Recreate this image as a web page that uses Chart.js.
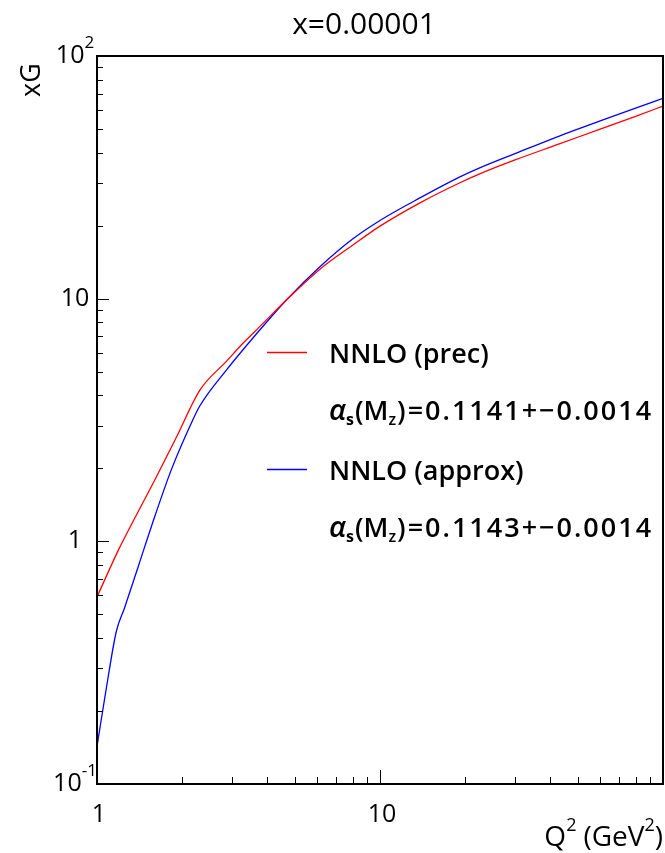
<!DOCTYPE html>
<html><head><meta charset="utf-8">
<script src="https://cdn.jsdelivr.net/npm/chart.js@4.4.0/dist/chart.umd.min.js"></script>
<style>html,body{margin:0;padding:0;background:#fff;}canvas{display:block;}</style>
</head><body>
<canvas id="c" width="665" height="853"></canvas>
<script>
// ---- data ----
const title = 'x=0.00001';
const yAxisTitle = 'xG';
const seriesLabels = ['NNLO (prec)', 'NNLO (approx)'];
const alphaValues = ['0.1141+\u22120.0014', '0.1143+\u22120.0014'];
const seriesColors = ['#ff0000', '#0000ff'];

const precQ2 = [1, 1.19, 1.4, 1.6, 1.9, 2.31, 2.87, 3.28, 3.76, 4.67, 6.12, 8, 10, 14, 19, 22.4, 30, 43, 60, 80, 100];
const precXG = [0.59, 0.92, 1.33, 1.79, 2.66, 4.2, 5.53, 6.55, 7.67, 9.88, 13.2, 16.6, 19.9, 25.0, 29.9, 32.6, 37.3, 43.4, 50.0, 56.4, 62.2];

const approxQ2 = [1, 1.08, 1.17, 1.25, 1.4, 1.56, 1.83, 2.19, 2.31, 2.87, 3.76, 4.67, 6.12, 8, 10, 14, 19, 22.4, 30, 43, 60, 80, 100];
const approxXG = [0.143, 0.25, 0.425, 0.53, 0.79, 1.16, 1.97, 3.2, 3.62, 5.09, 7.43, 9.88, 13.5, 17.6, 21.0, 26.2, 31.6, 34.5, 39.6, 46.8, 54.0, 61.0, 66.9];

const xMajorTicks = [1, 10, 100];
const xTickLabels = [['1', ''], ['10', ''], null];
const yMajorTicks = [0.1, 1, 10, 100];
const yTickLabels = [['10', '-1'], ['1', ''], ['10', ''], ['10', '2']];

// ---- helpers ----
const FONT = '"Open Sans", "DejaVu Sans", sans-serif';
function font(size, opts) {
  opts = opts || {};
  return (opts.italic ? 'italic ' : '') + (opts.bold ? 'bold ' : (opts.weight ? opts.weight + ' ' : '')) + size + 'px ' + FONT;
}
function applyFont(ctx, p) {
  ctx.font = font(p.size, p);
  if ('letterSpacing' in ctx) ctx.letterSpacing = (p.ls || 0) + 'px';
}
function richWidth(ctx, parts) {
  let w = 0;
  for (const p of parts) { applyFont(ctx, p); w += ctx.measureText(p.t).width + (p.gap || 0); }
  return w;
}
function drawRich(ctx, x, y, parts, align) {
  let w = richWidth(ctx, parts);
  let cx = align === 'center' ? x - w / 2 : align === 'right' ? x - w : x;
  ctx.textAlign = 'left';
  for (const p of parts) {
    applyFont(ctx, p);
    ctx.fillText(p.t, cx, y + (p.dy || 0));
    cx += ctx.measureText(p.t).width + (p.gap || 0);
  }
  if ('letterSpacing' in ctx) ctx.letterSpacing = '0px';
}

const decorPlugin = {
  id: 'decor',
  afterDraw(chart) {
    const { ctx, chartArea: a, scales: { x, y } } = chart;
    ctx.save();
    ctx.fillStyle = '#000';
    ctx.strokeStyle = '#000';
    // ticks (drawn inward)
    ctx.lineWidth = 1;
    ctx.beginPath();
    for (let i = 0; i < xMajorTicks.length; i++) {
      const px = Math.round(x.getPixelForValue(xMajorTicks[i])) + 0.5;
      ctx.moveTo(px, a.bottom); ctx.lineTo(px, a.bottom - 14);
      if (i < xMajorTicks.length - 1) {
        for (let k = 2; k <= 9; k++) {
          const mx = Math.round(x.getPixelForValue(xMajorTicks[i] * k)) + 0.5;
          ctx.moveTo(mx, a.bottom); ctx.lineTo(mx, a.bottom - 7);
        }
      }
    }
    for (let i = 0; i < yMajorTicks.length; i++) {
      const py = Math.round(y.getPixelForValue(yMajorTicks[i])) + 0.5;
      ctx.moveTo(a.left, py); ctx.lineTo(a.left + 12, py);
      if (i < yMajorTicks.length - 1) {
        for (let k = 2; k <= 9; k++) {
          const my = Math.round(y.getPixelForValue(yMajorTicks[i] * k)) + 0.5;
          ctx.moveTo(a.left, my); ctx.lineTo(a.left + 6, my);
        }
      }
    }
    ctx.stroke();
    // frame
    ctx.lineWidth = 2;
    ctx.strokeRect(a.left, a.top, a.right - a.left, a.bottom - a.top);

    ctx.textBaseline = 'middle';
    for (let i = 0; i < yMajorTicks.length; i++) {
      const lab = yTickLabels[i];
      const py = y.getPixelForValue(yMajorTicks[i]);
      const parts = [{ t: lab[0], size: 25 }];
      if (lab[1]) parts.push({ t: lab[1], size: 17, dy: -13 });
      drawRich(ctx, 75, py, parts, 'center');
    }
    for (let i = 0; i < xMajorTicks.length; i++) {
      const lab = xTickLabels[i];
      if (!lab) continue;
      const px = x.getPixelForValue(xMajorTicks[i]);
      drawRich(ctx, px + 2, a.bottom + 31, [{ t: lab[0], size: 25 }], 'center');
    }
    // x axis title
    ctx.textBaseline = 'alphabetic';
    drawRich(ctx, a.right, 846, [
      { t: 'Q', size: 28 }, { t: '2', size: 18, dy: -15, gap: 7 },
      { t: '(GeV', size: 28 }, { t: '2', size: 18, dy: -15 }, { t: ')', size: 28 }
    ], 'right');
    // y axis title (rotated)
    ctx.save();
    ctx.translate(40, 80);
    ctx.rotate(-Math.PI / 2);
    drawRich(ctx, 0, 0, [{ t: yAxisTitle, size: 27 }], 'center');
    ctx.restore();
    // title
    drawRich(ctx, 364, 34, [{ t: title, size: 30 }], 'center');

    // legend
    const lx0 = 267, lx1 = 307, tx = 329;
    const rows = [352, 469];
    for (let i = 0; i < 2; i++) {
      ctx.strokeStyle = seriesColors[i];
      ctx.lineWidth = 1.3;
      ctx.beginPath();
      ctx.moveTo(lx0, rows[i] + 0.5); ctx.lineTo(lx1, rows[i] + 0.5);
      ctx.stroke();
      ctx.fillStyle = '#000';
      drawRich(ctx, tx, rows[i] + 11, [{ t: seriesLabels[i], size: 27, weight: 600 }], 'left');
      const by = rows[i] + 68;
      drawRich(ctx, tx, by, [
        { t: '\u03b1', size: 29, italic: true, weight: 600 },
        { t: 's', size: 16, dy: 5, bold: true, gap: 1 },
        { t: '(M', size: 27, weight: 600 },
        { t: 'z', size: 16, dy: 5, weight: 600, gap: 1 },
        { t: ')=' + alphaValues[i], size: 27, weight: 600, ls: 2 }
      ], 'left');
    }
    ctx.restore();
  }
};

new Chart(document.getElementById('c'), {
  type: 'line',
  data: {
    datasets: [
      {
        label: seriesLabels[0],
        data: precQ2.map((q, i) => ({ x: q, y: precXG[i] })),
        borderColor: seriesColors[0], borderWidth: 1.3, pointRadius: 0,
        cubicInterpolationMode: 'monotone', fill: false
      },
      {
        label: seriesLabels[1],
        data: approxQ2.map((q, i) => ({ x: q, y: approxXG[i] })),
        borderColor: seriesColors[1], borderWidth: 1.3, pointRadius: 0,
        cubicInterpolationMode: 'monotone', fill: false
      }
    ]
  },
  options: {
    responsive: false,
    animation: false,
    layout: { padding: { left: 97, right: 2, top: 56, bottom: 69 } },
    scales: {
      x: { type: 'logarithmic', min: 1, max: 100, display: false },
      y: { type: 'logarithmic', min: 0.1, max: 100, display: false }
    },
    plugins: { legend: { display: false }, tooltip: { enabled: false }, title: { display: false } }
  },
  plugins: [decorPlugin]
});
</script>
</body></html>
